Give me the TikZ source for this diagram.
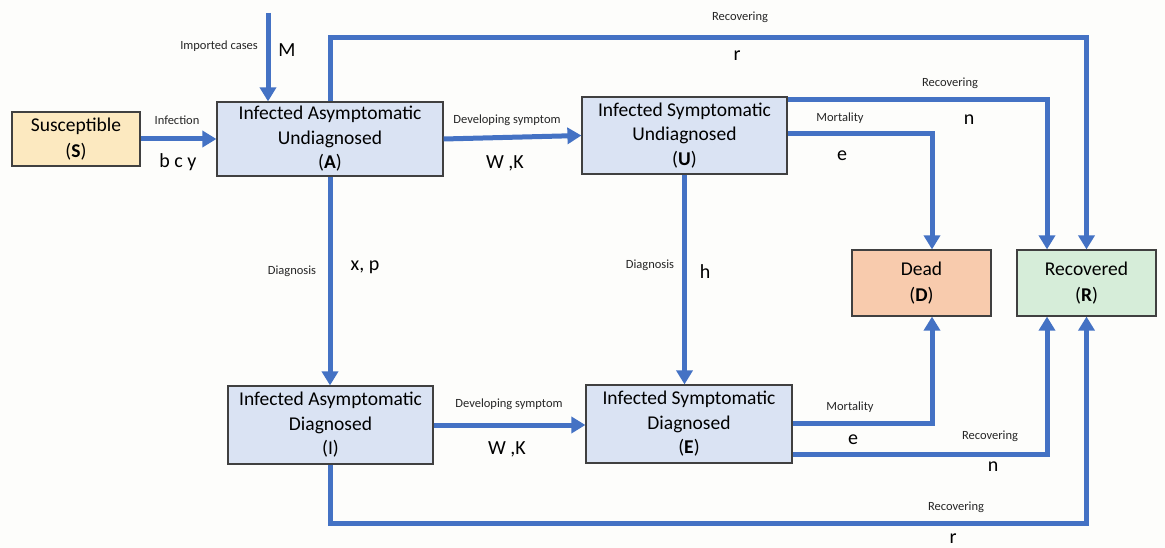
\documentclass[tikz,border=0pt]{standalone}
\usepackage{fontspec}
\setmainfont{Carlito}
\usetikzlibrary{arrows.meta,calc}
\definecolor{flowblue}{HTML}{4472C4}
\definecolor{boxline}{HTML}{404040}
\definecolor{bluefill}{HTML}{DAE3F3}
\definecolor{sfill}{HTML}{FCE9C0}
\definecolor{dfill}{HTML}{F8CBAD}
\definecolor{rfill}{HTML}{D6EDD9}
\definecolor{bg}{HTML}{FDFDFB}
\begin{document}
\begin{tikzpicture}[x=1pt,y=-1pt,
  box/.style={draw=boxline, line width=1.2pt, align=center, inner sep=0pt, font=\fontsize{19.5}{24.5}\selectfont},
  flow/.style={draw=flowblue, line width=5pt, -{Triangle[width=16pt,length=14pt]}},
  small/.style={font=\fontsize{12.5}{14}\selectfont, text=black!85},
  rate/.style={font=\fontsize{20}{22}\selectfont}]
\fill[bg] (0,0) rectangle (1165,548);
\useasboundingbox (0,0) rectangle (1165,548);

% boxes
\node[box, fill=sfill, minimum width=128pt, minimum height=54pt, font=\fontsize{19.5}{26}\selectfont] (S) at (76,139) {Susceptible\\(\textbf{S})};
\node[box, fill=bluefill, minimum width=226pt, minimum height=74pt] (A) at (330,139) {Infected Asymptomatic\\Undiagnosed\\(\textbf{A})};
\node[box, fill=bluefill, minimum width=205pt, minimum height=77pt] (U) at (684.5,135.5) {Infected Symptomatic\\Undiagnosed\\(\textbf{U})};
\node[box, fill=dfill, minimum width=139pt, minimum height=66pt, font=\fontsize{19.5}{26}\selectfont] (D) at (921.5,283) {Dead\\(\textbf{D})};
\node[box, fill=rfill, minimum width=139pt, minimum height=66pt, font=\fontsize{19.5}{26}\selectfont] (R) at (1086.5,283) {Recovered\\(\textbf{R})};
\node[box, fill=bluefill, minimum width=205pt, minimum height=78pt] (I) at (330.5,425) {Infected Asymptomatic\\Diagnosed\\(I)};
\node[box, fill=bluefill, minimum width=206pt, minimum height=78pt] (E) at (689,424) {Infected Symptomatic\\Diagnosed\\(\textbf{E})};

% helper coordinates
\coordinate (imp) at (268,13);
\coordinate (ytop) at (0,38);
\coordinate (y100) at (0,100);
\coordinate (y134) at (0,134);
\coordinate (y423) at (0,423);
\coordinate (y454) at (0,454);
\coordinate (y523) at (0,523);
\coordinate (nx) at (1047,0);
\coordinate (dx) at (932,0);

% connectors
\draw[flow] (imp) -- (imp |- A.north);
\draw[flow] (S) -- (A);
\draw[flow] (A.east) -- (U.west);
\draw[flow] (A.south) -- (A.south |- I.north);
\draw[flow] (U.south) -- (U.south |- E.north);
\draw[flow] (I.east) -- (I.east -| E.west);
\draw[flow] (A.north) |- (R.north |- ytop) -- (R.north);
\draw[flow] (U.east |- y100) -| (nx |- R.north);
\draw[flow] (U.east |- y134) -| (dx |- D.north);
\draw[flow] (E.east |- y423) -| (dx |- D.south);
\draw[flow] (E.east |- y454) -| (nx |- R.south);
\draw[flow] (I.south) |- (R.south |- y523) -- (R.south);

% labels
\node[small] (l1) at (219,46) {Imported cases};
\node[rate] (r1) at (287,50) {M};
\node[small] (l2) at (740,17) {Recovering};
\node[rate] (r2) at (737,56) {r};
\node[small] (l3) at (177,120) {Infection};
\node[rate] (r3) at (178,162) {b c y};
\node[small] (l4) at (507,120) {Developing symptom};
\node[rate] (r4) at (505,163) {W ,K};
\node[small] (l5) at (950,83) {Recovering};
\node[rate] (r5) at (969,120) {n};
\node[small] (l6) at (840,118) {Mortality};
\node[rate] (r6) at (842,156) {e};
\node[small] (l7) at (292,271) {Diagnosis};
\node[rate] (r7) at (365,267) {x, p};
\node[small] (l8) at (650,265) {Diagnosis};
\node[rate] (r8) at (705,272) {h};
\node[small] (l9) at (509,404) {Developing symptom};
\node[rate] (r9) at (507,449) {W ,K};
\node[small] (l10) at (850,407) {Mortality};
\node[rate] (r10) at (853,440) {e};
\node[small] (l11) at (990,436) {Recovering};
\node[rate] (r11) at (993,467) {n};
\node[small] (l12) at (956,507) {Recovering};
\node[rate] (r12) at (953,539) {r};
\end{tikzpicture}
\end{document}
